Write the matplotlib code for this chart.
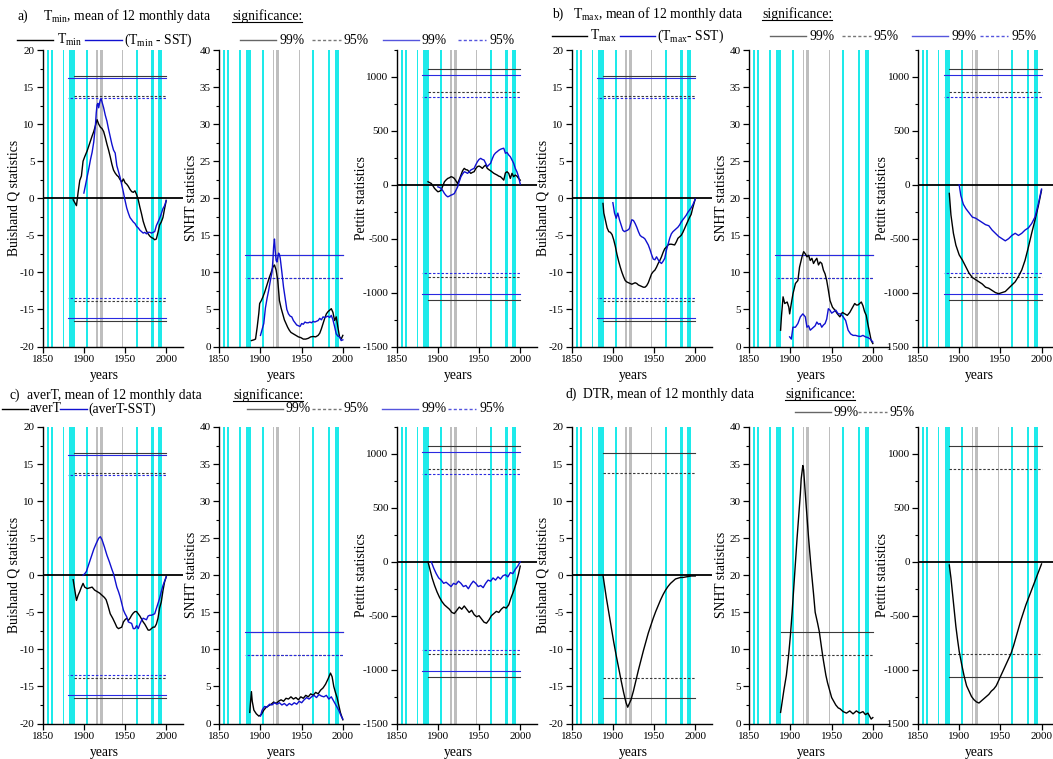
import matplotlib
matplotlib.use('Agg')
import matplotlib.pyplot as plt
from matplotlib.lines import Line2D
from matplotlib.ticker import MultipleLocator

plt.rcParams['font.family'] = ['Liberation Serif', 'DejaVu Serif']
plt.rcParams['mathtext.fontset'] = 'custom'
plt.rcParams['mathtext.rm'] = 'Liberation Serif'
plt.rcParams['mathtext.it'] = 'Liberation Serif:italic'
plt.rcParams['axes.unicode_minus'] = False

W, H = 1053, 759
FS = 9.8
BLUE = '#1010D0'
CYAN = '#1EEAEA'
GRAY = '#BEBEBE'

# marked periods (years)
cyan_spans = [(1855, 1857.3), (1859.8, 1862.2), (1874.5, 1876), (1882.5, 1889),
              (1902, 1904.4), (1963, 1965.4), (1981.8, 1984.8), (1990.6, 1995.3)]
gray_spans = [(1915.2, 1916.6), (1919.3, 1922.8), (1946.6, 1948)]

# critical values: (99%, 95%)
q_crit = [16.5, 13.8]
q_crit_sst = [16.2, 13.5]
snht_crit = [12.4, 9.3]
snht_crit_sst = [12.4, 9.3]
pett_crit = [1070, 860]
pett_crit_sst = [1015, 815]
crit_start, crit_start_sst, crit_end = 1888, 1881, 2000

# ---- a) Tmin
tmin_q_years = [1887, 1889, 1891, 1893, 1895, 1897, 1899, 1901, 1904, 1907, 1910, 1912, 1914, 1916, 1918,
                1920, 1922, 1924, 1926, 1928, 1930, 1932, 1934, 1936, 1938, 1940, 1942, 1944, 1946, 1948,
                1950, 1952, 1954, 1956, 1958, 1960, 1962, 1964, 1966, 1968, 1970, 1972, 1974, 1976, 1978,
                1980, 1982, 1984, 1986, 1988, 1990, 1992, 1994, 1996, 1998, 2000]
tmin_q = [-0.2, -0.6, -1.0, 0.8, 2.4, 3.0, 5.0, 5.6, 6.4, 7.4, 8.4, 9.0, 9.8, 10.6, 10.0,
          9.6, 9.4, 9.0, 8.2, 7.3, 6.5, 5.6, 4.6, 3.8, 3.4, 3.1, 2.9, 2.5, 2.2, 2.6,
          2.1, 1.9, 1.6, 1.2, 0.9, 0.8, 1.0, 0.5, -0.2, -1.2, -2.1, -3.1, -3.8, -4.4, -4.8,
          -5.1, -5.3, -5.4, -5.6, -5.5, -4.6, -3.6, -3.2, -2.6, -1.4, -0.3]
tminsst_q_years = [1900, 1902, 1904, 1906, 1908, 1910, 1912, 1914, 1915, 1916, 1917, 1918, 1919, 1920, 1921,
                   1922, 1924, 1926, 1928, 1930, 1932, 1934, 1936, 1938, 1940, 1942, 1944, 1946, 1948, 1950,
                   1952, 1954, 1956, 1958, 1960, 1962, 1964, 1966, 1968, 1970, 1972, 1974, 1976, 1978, 1980,
                   1982, 1984, 1986, 1988, 1990, 1992, 1994, 1996, 1998, 2000]
tminsst_q = [0.7, 1.8, 2.9, 4.0, 5.2, 6.2, 7.6, 9.8, 11.5, 12.6, 12.8, 12.2, 12.8, 13.3, 13.4,
             13.0, 12.2, 11.2, 10.4, 9.3, 8.3, 7.3, 6.5, 6.1, 4.4, 3.6, 2.8, 1.8, 0.8, -0.3,
             -1.3, -2.0, -2.6, -2.9, -3.2, -3.4, -3.8, -4.0, -4.3, -4.5, -4.7, -4.6, -4.8, -4.6, -4.6,
             -4.7, -4.6, -4.5, -3.7, -3.2, -2.7, -2.1, -1.4, -1.0, -0.3]

tmin_snht_years = [1889, 1892, 1894, 1896, 1898, 1899, 1901, 1903, 1905, 1907, 1909, 1911, 1913, 1915, 1917,
                   1919, 1921, 1923, 1925, 1927, 1929, 1931, 1933, 1935, 1937, 1940, 1943, 1946, 1949, 1952,
                   1955, 1958, 1961, 1964, 1967, 1970, 1972, 1974, 1976, 1978, 1980, 1982, 1984, 1986, 1988,
                   1990, 1992, 1994, 1996, 1998, 2000]
tmin_snht = [0.8, 0.9, 1.0, 2.6, 4.5, 5.8, 6.2, 6.7, 7.3, 8.0, 8.7, 9.4, 10.0, 10.7, 11.0,
             10.3, 8.9, 6.2, 5.2, 4.4, 3.6, 3.1, 2.6, 2.2, 1.9, 1.7, 1.5, 1.3, 1.2, 1.0,
             1.0, 1.1, 1.3, 1.35, 1.3, 1.5, 1.8, 2.4, 3.1, 3.8, 4.4, 4.7, 4.9, 5.1, 4.6,
             3.5, 4.0, 2.6, 1.3, 1.0, 1.5]
tminsst_snht_years = [1900, 1902, 1904, 1906, 1908, 1910, 1912, 1914, 1915, 1916, 1917, 1918, 1919, 1920, 1921,
                      1922, 1923, 1924, 1926, 1928, 1930, 1932, 1934, 1936, 1938, 1940, 1942, 1944, 1946, 1948,
                      1950, 1952, 1954, 1956, 1958, 1960, 1962, 1964, 1966, 1968, 1970, 1972, 1974, 1976, 1978,
                      1980, 1982, 1984, 1986, 1988, 1990, 1992, 1994, 1996, 1998, 2000]
tminsst_snht = [1.5, 2.3, 3.1, 5.2, 6.5, 7.6, 8.9, 10.0, 11.5, 13.5, 14.5, 12.8, 11.6, 11.4, 12.0,
                12.6, 12.4, 11.9, 10.0, 8.0, 6.5, 5.0, 4.4, 4.1, 4.0, 3.5, 3.2, 2.9, 2.8, 2.7,
                3.1, 3.0, 3.3, 3.2, 3.2, 3.3, 3.2, 3.4, 3.3, 3.4, 3.5, 3.8, 3.6, 4.0, 3.9,
                4.0, 4.1, 3.9, 4.2, 3.6, 2.7, 1.7, 1.4, 1.3, 0.8, 0.9]

tmin_pett_years = [1888, 1890, 1892, 1894, 1896, 1898, 1900, 1902, 1904, 1906, 1908, 1910, 1912, 1914, 1916,
                   1918, 1920, 1922, 1924, 1926, 1928, 1930, 1932, 1934, 1936, 1938, 1940, 1942, 1944, 1946,
                   1948, 1950, 1952, 1954, 1956, 1958, 1960, 1962, 1964, 1966, 1968, 1970, 1972, 1974, 1976,
                   1978, 1980, 1982, 1984, 1986, 1988, 1990, 1992, 1994, 1996, 1998, 2000]
tmin_pett = [28, 20, 12, -10, -34, -50, -65, -60, -50, -10, 28, 45, 59, 65, 75,
             70, 59, 35, 12, 50, 90, 130, 152, 140, 137, 120, 106, 115, 121, 150,
             168, 174, 165, 152, 170, 183, 152, 140, 130, 118, 106, 98, 90, 80, 75,
             60, 43, 110, 121, 106, 59, 106, 75, 90, 80, 59, 43]
tminsst_pett_years = [1900, 1902, 1904, 1906, 1908, 1910, 1912, 1914, 1916, 1918, 1920, 1922, 1924, 1926, 1928,
                      1930, 1932, 1934, 1936, 1938, 1940, 1942, 1944, 1946, 1948, 1950, 1952, 1954, 1956, 1958,
                      1960, 1962, 1964, 1966, 1968, 1970, 1972, 1974, 1976, 1978, 1980, 1982, 1984, 1986, 1988,
                      1990, 1992, 1994, 1996, 1998, 2000]
tminsst_pett = [-19, -25, -34, -55, -81, -100, -112, -105, -96, -90, -81, -50, -19, 30, 75,
                100, 121, 115, 106, 120, 137, 145, 152, 185, 214, 235, 245, 235, 230, 200,
                168, 185, 199, 240, 276, 295, 307, 320, 329, 335, 339, 292, 300, 276, 260,
                230, 200, 152, 120, 75, 6]

# ---- b) Tmax
tmax_q_years = [1888, 1889, 1891, 1893, 1895, 1897, 1899, 1901, 1903, 1905, 1907, 1909, 1911, 1913, 1915,
                1917, 1919, 1921, 1923, 1925, 1927, 1929, 1931, 1933, 1935, 1937, 1939, 1941, 1943, 1945,
                1947, 1949, 1951, 1953, 1955, 1957, 1959, 1961, 1963, 1965, 1967, 1969, 1971, 1973, 1975,
                1977, 1979, 1981, 1983, 1985, 1987, 1989, 1991, 1993, 1995, 1997, 1999, 2000]
tmax_q = [-0.7, -2.0, -3.0, -4.0, -4.5, -4.6, -4.9, -5.6, -6.5, -7.6, -8.5, -9.3, -10.0, -10.6, -11.1,
          -11.3, -11.4, -11.5, -11.6, -11.5, -11.4, -11.5, -11.7, -11.8, -11.9, -12.0, -12.0, -11.8, -11.4, -10.8,
          -10.2, -9.9, -9.7, -9.3, -8.8, -8.4, -7.9, -7.3, -6.8, -6.6, -6.3, -6.2, -6.2, -6.25, -6.3,
          -5.9, -5.4, -5.2, -5.0, -4.6, -4.1, -3.6, -3.1, -2.6, -2.2, -1.3, -0.5, -0.1]
tmaxsst_q_years = [1900, 1902, 1904, 1906, 1908, 1910, 1912, 1914, 1916, 1918, 1920, 1922, 1923, 1925, 1927,
                   1929, 1931, 1933, 1935, 1937, 1939, 1941, 1943, 1945, 1947, 1949, 1951, 1953, 1955, 1957,
                   1959, 1961, 1963, 1965, 1967, 1969, 1971, 1973, 1975, 1977, 1979, 1981, 1983, 1985, 1987,
                   1989, 1991, 1993, 1995, 1997, 1999, 2000]
tmaxsst_q = [-0.6, -2.0, -2.7, -2.0, -2.9, -3.6, -4.3, -4.5, -4.4, -4.3, -4.1, -3.3, -2.9, -3.0, -3.4,
             -3.9, -4.5, -5.0, -5.2, -5.3, -5.5, -5.9, -6.3, -6.9, -7.6, -8.2, -8.3, -7.9, -8.3, -8.6,
             -8.8, -8.5, -8.1, -7.0, -6.2, -5.4, -4.8, -4.5, -4.3, -4.1, -3.9, -3.6, -3.2, -2.9, -2.6,
             -2.3, -1.9, -1.6, -1.3, -0.9, -0.4, -0.1]

tmax_snht_years = [1888, 1889, 1891, 1893, 1896, 1898, 1899, 1901, 1903, 1906, 1909, 1911, 1914, 1916, 1918,
                   1920, 1922, 1924, 1926, 1928, 1930, 1932, 1934, 1936, 1938, 1940, 1942, 1944, 1946, 1948,
                   1951, 1954, 1957, 1960, 1963, 1966, 1969, 1972, 1975, 1978, 1980, 1982, 1984, 1986, 1988,
                   1990, 1992, 1994, 1996, 1998, 2000]
tmax_snht = [2.2, 4.0, 6.7, 5.8, 6.0, 5.3, 4.4, 5.8, 7.1, 8.5, 8.9, 10.7, 12.1, 12.8, 12.5,
             12.1, 12.3, 11.6, 11.9, 11.2, 11.6, 11.9, 11.0, 11.4, 11.2, 10.3, 9.8, 8.9, 7.6, 6.2,
             5.3, 4.9, 4.4, 4.0, 4.6, 4.4, 4.2, 4.6, 5.2, 5.8, 5.6, 5.6, 5.8, 6.0, 5.5,
             4.7, 4.2, 3.0, 1.9, 0.8, 0.4]
tmaxsst_snht_years = [1899, 1901, 1903, 1906, 1909, 1912, 1915, 1918, 1920, 1922, 1924, 1926, 1928, 1930, 1932,
                      1934, 1936, 1938, 1940, 1942, 1944, 1946, 1948, 1950, 1952, 1955, 1958, 1961, 1964, 1967,
                      1970, 1973, 1976, 1979, 1982, 1985, 1988, 1991, 1994, 1997, 2000]
tmaxsst_snht = [1.3, 1.0, 2.6, 2.6, 3.1, 4.0, 4.4, 4.0, 2.6, 2.8, 2.2, 2.4, 2.6, 2.8, 3.3,
                3.0, 3.1, 2.6, 2.9, 3.1, 3.7, 5.1, 4.9, 4.5, 4.65, 4.9, 4.4, 4.4, 4.0, 3.5,
                2.2, 1.7, 1.5, 1.5, 1.4, 1.35, 1.5, 1.3, 1.2, 1.0, 0.6]

tmax_pett_years = [1888, 1890, 1893, 1896, 1900, 1904, 1908, 1912, 1916, 1920, 1924, 1928, 1932, 1936, 1940,
                   1944, 1948, 1952, 1956, 1960, 1964, 1968, 1972, 1976, 1980, 1984, 1988, 1992, 1996, 2000]
tmax_pett = [-80, -280, -450, -560, -650, -700, -760, -820, -860, -880, -900, -920, -950, -960, -980,
             -1000, -1010, -1000, -990, -960, -930, -900, -850, -790, -700, -580, -450, -330, -200, -50]
tmaxsst_pett_years = [1900, 1902, 1905, 1908, 1912, 1916, 1920, 1924, 1928, 1932, 1936, 1940, 1944, 1948,
                      1952, 1956, 1960, 1964, 1968, 1972, 1976, 1980, 1984, 1988, 1992, 1996, 2000]
tmaxsst_pett = [0, -100, -180, -220, -260, -300, -310, -330, -350, -370, -380, -420, -450, -480,
                -500, -520, -500, -470, -450, -470, -450, -420, -400, -360, -300, -180, -40]

# ---- c) averT
avert_q_years = [1887, 1889, 1891, 1893, 1895, 1897, 1899, 1901, 1904, 1907, 1910, 1913, 1916, 1919, 1922,
                 1925, 1927, 1929, 1932, 1935, 1938, 1940, 1942, 1944, 1946, 1948, 1950, 1952, 1954, 1956,
                 1958, 1960, 1962, 1964, 1966, 1968, 1970, 1972, 1974, 1976, 1978, 1980, 1982, 1984, 1986,
                 1988, 1990, 1992, 1994, 1996, 1998, 2000]
avert_q = [-0.6, -2.0, -3.4, -2.7, -2.2, -1.6, -1.1, -1.6, -1.8, -1.7, -1.6, -2.0, -2.2, -2.4, -2.7,
           -3.0, -3.3, -4.0, -5.2, -5.8, -6.5, -7.0, -7.2, -7.1, -7.0, -6.3, -6.0, -5.8, -6.1, -5.8,
           -5.4, -5.1, -4.9, -4.9, -5.2, -5.5, -5.9, -6.3, -6.6, -7.0, -7.4, -7.4, -7.2, -7.0, -7.0,
           -6.6, -5.8, -4.4, -3.6, -2.1, -0.9, -0.2]
avertsst_q_years = [1899, 1901, 1903, 1906, 1909, 1912, 1915, 1918, 1920, 1922, 1925, 1928, 1931, 1934, 1936,
                    1938, 1940, 1942, 1944, 1946, 1948, 1950, 1952, 1954, 1956, 1958, 1960, 1962, 1964, 1966,
                    1968, 1970, 1972, 1974, 1976, 1978, 1980, 1982, 1984, 1986, 1988, 1990, 1992, 1994, 1996,
                    1998, 2000]
avertsst_q = [0.0, 0.2, 0.5, 1.5, 2.5, 3.5, 4.3, 5.0, 5.2, 4.8, 3.8, 2.7, 1.8, 0.8, 0.2,
              -0.7, -1.6, -2.2, -2.9, -3.8, -4.7, -5.2, -5.6, -6.3, -6.4, -6.5, -7.2, -7.2, -6.8, -7.2,
              -6.6, -6.1, -5.8, -5.9, -6.0, -5.5, -5.4, -5.4, -5.3, -5.2, -4.5, -3.8, -3.1, -2.2, -1.4,
              -0.8, -0.2]

avert_snht_years = [1887, 1888, 1889, 1890, 1892, 1895, 1898, 1901, 1904, 1907, 1910, 1913, 1916, 1919, 1922,
                    1925, 1928, 1931, 1934, 1937, 1940, 1943, 1946, 1949, 1952, 1955, 1958, 1961, 1964, 1967,
                    1970, 1973, 1976, 1979, 1982, 1985, 1987, 1989, 1991, 1993, 1995, 1997, 2000]
avert_snht = [1.5, 3.0, 4.3, 3.0, 1.8, 1.3, 1.0, 1.2, 1.8, 2.2, 2.4, 2.6, 2.9, 2.7, 3.0,
              3.2, 3.0, 3.4, 3.3, 3.6, 3.3, 3.5, 3.2, 3.6, 3.4, 3.8, 3.6, 4.0, 3.8, 4.2,
              4.0, 4.5, 4.8, 5.3, 6.0, 6.8, 6.3, 5.0, 4.2, 3.5, 2.5, 1.5, 0.5]
avertsst_snht_years = [1900, 1902, 1905, 1908, 1911, 1914, 1917, 1920, 1923, 1926, 1929, 1932, 1935, 1938, 1941,
                       1944, 1947, 1950, 1953, 1956, 1959, 1962, 1965, 1968, 1971, 1974, 1977, 1980, 1983, 1986,
                       1989, 1992, 1995, 1998, 2000]
avertsst_snht = [1.0, 1.8, 2.3, 2.2, 2.6, 2.5, 2.8, 2.6, 2.8, 2.5, 2.7, 2.4, 2.7, 2.5, 2.8,
                 2.6, 3.0, 2.8, 3.2, 3.5, 3.3, 3.6, 3.8, 3.5, 3.9, 3.7, 3.6, 3.8, 3.3, 3.6,
                 3.0, 2.4, 1.8, 1.0, 0.6]

avert_pett_years = [1888, 1890, 1893, 1896, 1899, 1902, 1905, 1908, 1911, 1914, 1917, 1920, 1923, 1926, 1929,
                    1932, 1935, 1938, 1941, 1944, 1947, 1950, 1953, 1956, 1959, 1962, 1965, 1968, 1971, 1974,
                    1977, 1980, 1983, 1986, 1989, 1992, 1995, 1998, 2000]
avert_pett = [0, -60, -150, -220, -280, -330, -370, -400, -420, -440, -470, -480, -450, -420, -440,
              -410, -440, -470, -450, -490, -510, -500, -530, -560, -570, -540, -500, -480, -460, -470,
              -440, -420, -430, -400, -330, -270, -200, -110, -40]
avertsst_pett_years = [1892, 1895, 1898, 1901, 1904, 1907, 1910, 1913, 1916, 1919, 1922, 1925, 1928, 1931, 1934,
                       1937, 1940, 1943, 1946, 1949, 1952, 1955, 1958, 1961, 1964, 1967, 1970, 1973, 1976, 1979,
                       1982, 1985, 1988, 1991, 1994, 1997, 2000]
avertsst_pett = [0, -60, -110, -150, -170, -200, -190, -210, -230, -200, -210, -180, -200, -230, -220,
                 -250, -210, -180, -200, -230, -220, -240, -200, -170, -180, -150, -170, -140, -160, -130,
                 -120, -140, -100, -110, -70, -40, 0]

# ---- d) DTR
dtr_q_years = [1888, 1890, 1892, 1895, 1898, 1901, 1904, 1907, 1910, 1913, 1916, 1918, 1920, 1922, 1925,
               1928, 1931, 1934, 1937, 1940, 1943, 1946, 1949, 1952, 1955, 1958, 1961, 1964, 1967, 1970,
               1973, 1976, 1979, 1982, 1985, 1990, 1995, 2000]
dtr_q = [0.0, -1.5, -3.0, -5.0, -7.0, -9.0, -10.8, -12.5, -14.2, -15.8, -17.2, -17.8, -17.3, -16.8, -15.6,
         -14.2, -12.8, -11.5, -10.2, -9.0, -7.8, -6.8, -5.8, -4.9, -4.1, -3.3, -2.6, -2.0, -1.5, -1.1,
         -0.8, -0.5, -0.4, -0.3, -0.3, -0.2, -0.1, -0.1]
dtr_snht_years = [1888, 1890, 1892, 1895, 1898, 1900, 1902, 1905, 1908, 1910, 1912, 1913, 1915, 1916, 1918,
                  1920, 1922, 1925, 1928, 1930, 1933, 1935, 1938, 1940, 1943, 1945, 1948, 1950, 1953, 1955,
                  1958, 1960, 1964, 1968, 1972, 1976, 1980, 1984, 1988, 1991, 1994, 1996, 1998, 2000]
dtr_snht = [1.5, 3.0, 4.5, 6.5, 9.5, 12.0, 15.0, 20.0, 25.0, 28.0, 31.0, 33.0, 34.8, 34.2, 31.0,
            28.0, 25.0, 21.0, 17.5, 15.0, 13.5, 12.4, 10.0, 8.5, 6.5, 5.5, 4.3, 3.5, 2.9, 2.5,
            2.1, 2.0, 1.6, 1.4, 1.7, 1.3, 1.7, 1.4, 1.6, 1.2, 1.4, 1.0, 0.6, 0.8]
dtr_pett_years = [1888, 1890, 1892, 1894, 1896, 1898, 1900, 1903, 1906, 1909, 1912, 1915, 1918, 1921, 1924,
                  1927, 1930, 1933, 1936, 1939, 1942, 1945, 1948, 1951, 1954, 1957, 1960, 1963, 1966, 1969,
                  1972, 1975, 1978, 1981, 1984, 1987, 1990, 1993, 1996, 2000]
dtr_pett = [-30, -150, -300, -450, -600, -720, -830, -950, -1060, -1150, -1200, -1250, -1280, -1300, -1310,
            -1290, -1270, -1250, -1230, -1200, -1180, -1150, -1100, -1050, -1000, -950, -900, -850, -780, -700,
            -620, -540, -470, -400, -340, -280, -220, -160, -100, -20]

# ---- figure layout (pixel positions of the 1850 tick, axis width/height)
fig = plt.figure(figsize=(W / 100, H / 100), dpi=100)
col_left = [42.7, 219.3, 396.7, 571.7, 749.3, 918.0]
row_top = [50.0, 427.0]
ax_w, ax_h = 140.0, 296.5
ylabel_x = {'q': -0.205, 'snht': -0.2, 'pett': -0.25}


def fx(px):
    return px / W


def fy(py):
    return 1 - py / H


def add_ax(row, col):
    return fig.add_axes([fx(col_left[col]), fy(row_top[row] + ax_h), ax_w / W, ax_h / H])


def base(ax, kind):
    for lo, hi in cyan_spans:
        ax.axvspan(lo, hi, color=CYAN, lw=0, zorder=0)
    for lo, hi in gray_spans:
        ax.axvspan(lo, hi, color=GRAY, lw=0, zorder=0)
    ax.set_xlim(1850, 2020)
    ax.set_xticks([1850, 1900, 1950, 2000])
    if kind == 'q':
        ax.set_ylim(-20, 20)
        ax.yaxis.set_major_locator(MultipleLocator(5))
        ax.yaxis.set_minor_locator(MultipleLocator(2.5))
        ax.set_ylabel('Buishand Q statistics', fontsize=FS)
    elif kind == 'snht':
        ax.set_ylim(0, 40)
        ax.yaxis.set_major_locator(MultipleLocator(5))
        ax.yaxis.set_minor_locator(MultipleLocator(2.5))
        ax.set_ylabel('SNHT statistics', fontsize=FS)
    else:
        ax.set_ylim(-1500, 1250)
        ax.yaxis.set_major_locator(MultipleLocator(500))
        ax.yaxis.set_minor_locator(MultipleLocator(250))
        ax.set_ylabel('Pettitt statistics', fontsize=FS)
    ax.yaxis.label.set_va('center')
    ax.yaxis.set_label_coords(ylabel_x[kind], 0.5)
    if kind != 'snht':
        ax.axhline(0, color='black', lw=1.3, zorder=3)
    for s in ['top', 'right']:
        ax.spines[s].set_visible(False)
    for s in ['left', 'bottom']:
        ax.spines[s].set_linewidth(1.0)
    ax.tick_params(which='major', direction='out', length=4, width=0.9, labelsize=8, pad=2)
    ax.tick_params(which='minor', direction='out', length=2.5, width=0.8)
    ax.set_xlabel('years', fontsize=FS)
    ax.xaxis.set_label_coords(75 / 170, -0.075)
    ax.patch.set_visible(False)


def crit_lines(ax, levels, start, color, both_sides, dash_offset=0):
    sides = [1, -1] if both_sides else [1]
    for sg in sides:
        ax.plot([start, crit_end], [sg * levels[0]] * 2, color=color, lw=0.8, zorder=2)
        ax.plot([start, crit_end], [sg * levels[1]] * 2, color=color, lw=0.8,
                ls=(dash_offset, (2.2, 1.6)), zorder=2)


panels = [
    (0, 0, 'q', tmin_q_years, tmin_q, tminsst_q_years, tminsst_q),
    (0, 1, 'snht', tmin_snht_years, tmin_snht, tminsst_snht_years, tminsst_snht),
    (0, 2, 'pett', tmin_pett_years, tmin_pett, tminsst_pett_years, tminsst_pett),
    (0, 3, 'q', tmax_q_years, tmax_q, tmaxsst_q_years, tmaxsst_q),
    (0, 4, 'snht', tmax_snht_years, tmax_snht, tmaxsst_snht_years, tmaxsst_snht),
    (0, 5, 'pett', tmax_pett_years, tmax_pett, tmaxsst_pett_years, tmaxsst_pett),
    (1, 0, 'q', avert_q_years, avert_q, avertsst_q_years, avertsst_q),
    (1, 1, 'snht', avert_snht_years, avert_snht, avertsst_snht_years, avertsst_snht),
    (1, 2, 'pett', avert_pett_years, avert_pett, avertsst_pett_years, avertsst_pett),
    (1, 3, 'q', dtr_q_years, dtr_q, None, None),
    (1, 4, 'snht', dtr_snht_years, dtr_snht, None, None),
    (1, 5, 'pett', dtr_pett_years, dtr_pett, None, None),
]

crit_table = {'q': (q_crit, q_crit_sst, True),
              'snht': (snht_crit, snht_crit_sst, False),
              'pett': (pett_crit, pett_crit_sst, True)}

for row, col, kind, yk, vk, yb, vb in panels:
    ax = add_ax(row, col)
    base(ax, kind)
    crit, crit_sst, both = crit_table[kind]
    crit_lines(ax, crit, crit_start, '#3A3A3A', both)
    if yb is not None:
        crit_lines(ax, crit_sst, crit_start_sst, '#2A2AE0', both, dash_offset=1.9)
    ax.plot(yk, vk, color='black', lw=1.0, zorder=4)
    if yb is not None:
        ax.plot(yb, vb, color=BLUE, lw=1.0, zorder=5)

# ---- headers and legend keys
renderer = fig.canvas.get_renderer()


def key_line(x0, x1, y, color, dashed=False):
    ls = (0, (2.2, 1.6)) if dashed else '-'
    fig.add_artist(Line2D([fx(x0), fx(x1)], [fy(y), fy(y)], color=color, lw=1.0, ls=ls,
                          transform=fig.transFigure))


def text(x, y, s):
    return fig.text(fx(x), fy(y), s, ha='left', va='center', fontsize=FS)


def underlined(x, y, s):
    t = text(x, y, s)
    bb = t.get_window_extent(renderer)
    fig.add_artist(Line2D([bb.x0 / W, bb.x1 / W], [(bb.y0 + 1) / H] * 2, color='black', lw=0.8,
                          transform=fig.transFigure))


def sig_keys(xs, y, with_blue=True):
    g0, g1, g2, g3 = xs[:4]
    key_line(g0, g0 + 36, y, '#666666')
    text(g0 + 39, y, '99%')
    key_line(g1, g1 + 29, y, '#777777', dashed=True)
    text(g1 + 32, y, '95%')
    if with_blue:
        key_line(g2, g2 + 36, y, '#5555DD')
        text(g2 + 39, y, '99%')
        key_line(g3, g3 + 28, y, '#5555DD', dashed=True)
        text(g3 + 31, y, '95%')


# a)
text(17, 16, 'a)')
text(43, 16, r'T$_{\rm min}$, mean of 12 monthly data')
underlined(232, 16, 'significance:')
key_line(17, 53, 40, 'black')
text(57, 40, r'T$_{\rm min}$')
key_line(85, 122, 40, BLUE)
text(124, 40, r'(T$_{\rm min}$ - SST)')
sig_keys([240, 312, 383, 458], 40)

# b)
text(552, 14, 'b)')
text(573, 14, r'T$_{\rm max}$, mean of 12 monthly data')
underlined(762, 14, 'significance:')
key_line(552, 587, 36, 'black')
text(590, 36, r'T$_{\rm max}$')
key_line(620, 655, 36, BLUE)
text(657, 36, r'(T$_{\rm max}$- SST)')
sig_keys([770, 842, 912, 980], 36)

# c)
text(10, 395, 'c)')
text(27, 395, 'averT, mean of 12 monthly data')
underlined(233, 395, 'significance:')
key_line(2, 28, 409, 'black')
text(30, 409, 'averT')
key_line(60, 87, 409, BLUE)
text(88, 409, '(averT-SST)')
sig_keys([247, 312, 382, 448], 409)

# d)
text(565, 394, 'd)')
text(583, 394, 'DTR, mean of 12 monthly data')
underlined(785, 394, 'significance:')
sig_keys([795, 858, 0, 0], 412, with_blue=False)

fig.savefig('out.png', dpi=100)
